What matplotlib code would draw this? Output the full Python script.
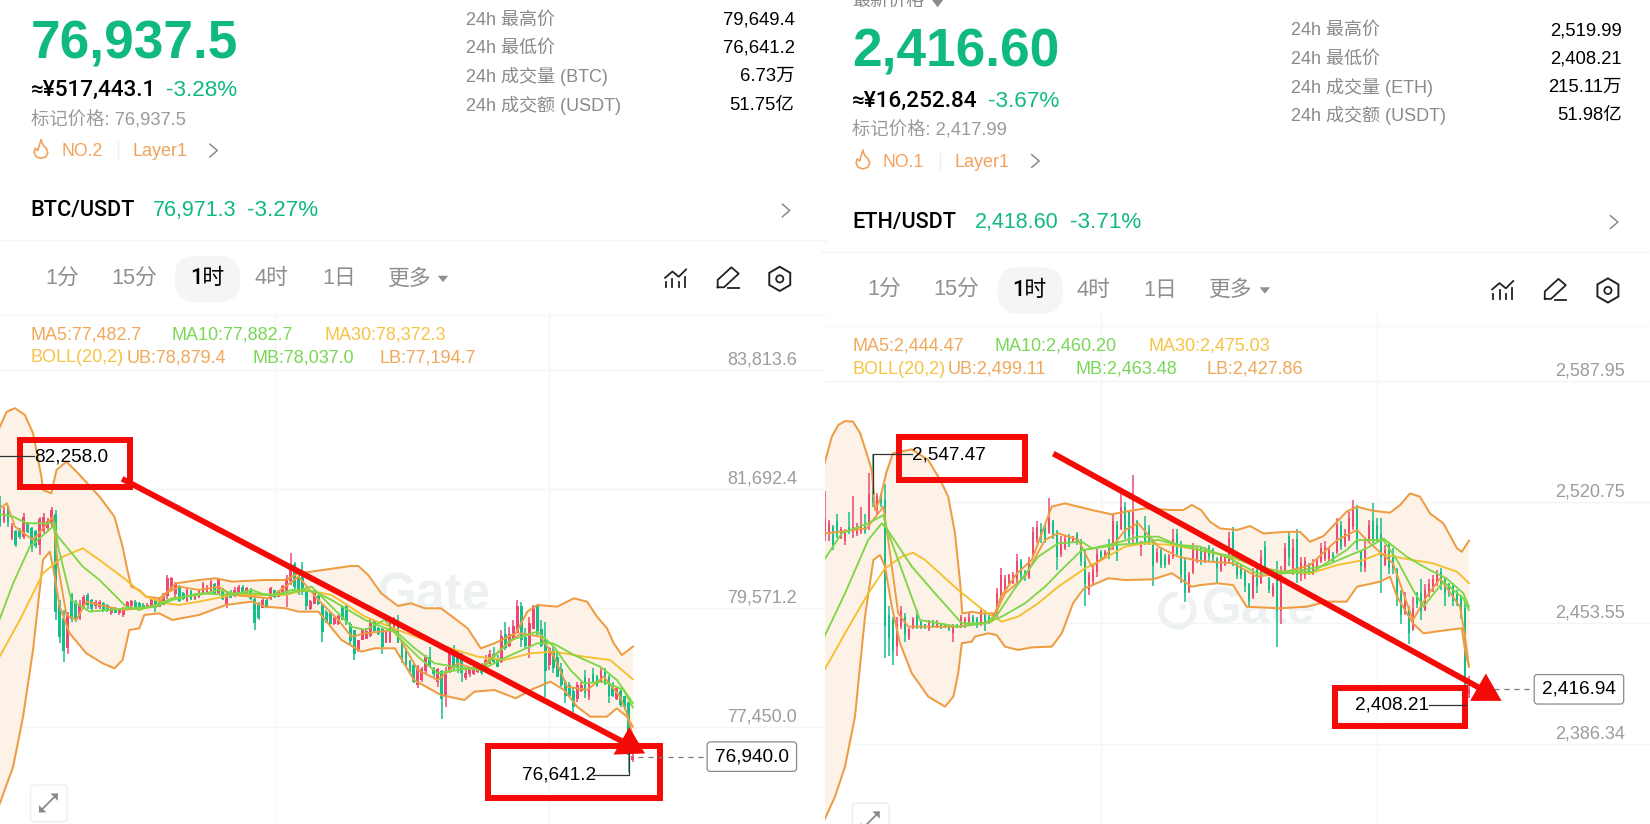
import matplotlib
matplotlib.use("Agg")
import matplotlib.pyplot as plt
from matplotlib.patches import Rectangle, FancyBboxPatch, Polygon, Circle, RegularPolygon, Arc
import numpy as np

plt.rcParams['font.family'] = ['Liberation Sans', 'Noto Sans CJK SC', 'DejaVu Sans']
MED = ['Roboto', 'Noto Sans CJK SC', 'DejaVu Sans']

# ---------- BTC candles ----------
btc_open = [81400,81120,81380,80820,80940,80970,80830,81100,81000,80940,80700,80950,81000,81060,81250,79650,79400,78850,79800,79680,79400,79580,79800,79720,79600,79590,79660,79620,79480,79570,79480,79440,79550,79600,79680,79660,79620,79580,79580,79720,79590,79620,79780,79900,79820,79960,79840,79700,79880,79730,79760,79820,79840,79850,80000,79830,79900,79620,79840,79780,79800,79950,79820,79900,79740,79650,79570,79720,79740,79900,79770,79800,79880,80050,80350,80100,80150,79850,79550,79640,79790,79640,79500,79480,79280,79290,79600,79600,79290,79180,78820,79000,79010,79070,79340,79220,79200,78950,78960,79130,79350,
78950,78800,78620,78560,78200,78280,78450,78700,78500,78250,78450,77980,78450,78780,78750,78700,78320,78400,78400,78430,78520,78480,78580,78760,78640,78600,79100,78900,79000,79120,79600,79050,78900,79200,79620,79200,79000,78550,78820,78700,78480,78250,78200,78100,77950,78100,78350,77990,78400,78350,78250,78450,78350,78200,77950,78100,78000,77900,76860]
btc_close = [81050,81320,81100,81040,80700,80830,81200,80920,80650,80680,81150,81200,81130,81320,79500,79050,78800,79450,79380,79380,79650,79770,79620,79560,79680,79670,79530,79510,79570,79490,79540,79570,79670,79690,79560,79580,79570,79620,79720,79570,79700,79800,80100,80100,80000,79700,79730,79900,79730,79820,79870,80000,79950,80040,79820,80080,79730,79820,79750,79900,79950,79820,79920,79730,79300,79400,79720,79580,79920,79760,79880,79960,80100,80350,79950,79830,79850,79600,79700,79850,79650,79150,79310,79280,79400,79430,79360,79300,78980,78750,79000,79190,79170,79330,79170,79100,78880,79150,79300,79370,78950,
78650,78560,78440,78250,78520,78480,78700,78520,78400,78480,77950,78450,78780,78520,78500,78420,78420,78500,78520,78560,78420,78650,78750,78610,78520,79080,78850,79100,79250,79600,79000,78900,79300,79600,79150,78900,78450,78850,78500,78350,78200,78000,78000,77800,78200,78200,78050,78250,78250,78200,78450,78220,78000,78000,78150,77850,77800,76950,76940]
btc_high = [81560,81380,81410,81080,80960,80990,81260,81110,81020,80960,81200,81260,81170,81380,81320,79710,79540,79500,79830,79710,79710,79800,79830,79740,79710,79710,79680,79650,79595,79595,79566,79595,79690,79714,79714,79685,79655,79655,79740,79740,79740,79830,80160,80130,80040,79980,79860,79920,79890,79833,79890,80040,79980,80070,80011,80100,79923,79863,79893,79952,79982,79982,79952,79923,79770,79685,79744,79744,79952,79893,79893,79982,80160,80546,80400,80160,80400,79893,79714,79893,79803,79655,79536,79506,79417,79447,79625,79625,79328,79180,79001,79209,79209,79387,79358,79239,79209,79180,79328,79417,79447,
78942,78852,78644,78585,78555,78525,78733,78882,78525,78496,78460,78525,78823,78912,78823,78763,78466,78525,78555,78615,78585,78733,78823,78882,78733,79179,79328,79239,79358,79714,79684,79209,79417,79625,79625,79358,79328,78882,78882,78763,78585,78288,78258,78139,78258,78258,78466,78318,78496,78377,78496,78496,78377,78258,78169,78139,77990,77900,76980]
btc_low = [81020,81080,81020,80780,80665,80810,80810,80900,80575,80635,80520,80900,80960,81020,79360,78940,78615,78760,79330,79330,79360,79560,79560,79500,79560,79560,79500,79500,79450,79480,79450,79417,79540,79566,79536,79566,79566,79566,79566,79500,79595,79625,79740,79890,79774,79685,79714,79685,79714,79714,79744,79803,79833,79833,79803,79803,79714,79566,79744,79774,79803,79803,79803,79714,79180,79350,79566,79566,79714,79744,79774,79803,79595,79982,79833,79803,79803,79536,79536,79655,79625,78970,79298,79268,79268,79268,79358,79268,78910,78645,78793,79001,79031,79061,79150,79090,78760,78942,78942,79120,78942,
78585,78525,78407,78228,78139,78258,78407,78525,78347,78169,77600,77810,78407,78466,78407,78258,78288,78347,78377,78407,78377,78466,78585,78585,78525,78585,78823,78882,79061,79120,78882,78852,78674,79209,79090,78882,77990,78466,78407,78347,78169,77872,77990,77723,77901,78080,77961,77931,78228,78169,78228,78199,77872,77990,77931,77812,77753,76641.2,76830]

# ---------- ETH candles ----------
eth_open = [2502,2503,2507,2510,2501,2499,2507,2504,2503,2504,2507,2507,2530,2517,2525,2522,2458,2455,2441,2452,2457,2445,2451,2458,2454,2453,2450,2454,2452,2453,2453,2451.5,2448,2452.5,2452,2453,2454,2457,2456,2453,2458,2457,2455,2458,2468,2472,2475,2476,2478,2488,2482,2479,2492,2500,2506,2507,2504,2510,2504,2492,2495,2502,2498,2503,2499,2488,2472,2477,2482,2493,2490,2495,2495,2508,2506,2518,2515,2503,2510,2496,2506,2505,2498,2488,2494,2491,2487,2490,2503,2497,2488,2471,2482,2488,
2495,2488,2496,2494,2489,2483,2486,2488,2504,2486,2485,2482,2475,2468,2483,2476,2496,2478,2469,2482,2460,2482,2502,2484,2500,2480,2480,2486,2481,2484,2488,2489,2489,2492,2493,2508,2497,2500,2507,2517,2493,2484,2499,2510,2508,2503,2486,2497,2490,2483,2470,2459,2462,2450,2470,2470,2461,2469,2472,2475,2482,2478,2475,2474,2471,2468,2462,2414]
eth_close = [2512,2509,2497,2503,2506,2505,2504,2507,2507,2508,2504,2525,2521,2524,2520,2452,2445,2438,2453,2460,2447,2450,2456,2452,2451,2451,2454,2452,2454,2451,2451.5,2450,2452,2451,2457,2456,2457,2454,2453,2460,2453,2454,2458,2470,2480,2478,2480,2480,2488,2480,2479,2487,2504,2507,2501,2500,2512,2503,2490,2498,2500,2498,2501,2498,2488,2475,2480,2483,2492,2490,2493,2490,2510,2492,2518,2506,2502,2515,2498,2498,2498,2498,2485,2493,2486,2486,2491,2500,2492,2481,2470,2480,2495,2494,
2488,2494,2490,2490,2484,2490,2491,2501,2490,2480,2480,2474,2466,2480,2474,2490,2484,2472,2474,2460,2480,2495,2490,2495,2480,2487,2488,2482,2487,2488,2495,2496,2494,2488,2508,2496,2503,2512,2518,2498,2485,2494,2508,2500,2500,2490,2494,2484,2484,2470,2458,2466,2448,2462,2464,2460,2472,2475,2478,2481,2474,2470,2470,2466,2465,2460,2414,2416.94]
eth_high = [2527,2511,2508,2514,2507,2506,2515,2524,2509,2518,2514,2537,2547.47,2526,2526,2531,2463,2457,2457,2463,2459,2451,2457,2461,2455,2453,2455,2455,2455,2453,2453,2452,2453,2453,2458,2457,2459,2458,2457,2462,2461,2459,2459,2473,2484,2480,2481,2482,2492,2489,2483,2490,2507,2510,2509,2508,2523,2511,2505,2502,2502,2503,2502,2504,2500,2494,2482,2486,2495,2494,2494,2500,2514,2510,2525,2521,2516,2536,2511,2499,2513,2508,2500,2495,2496,2492,2492,2506,2506,2499,2490,2482,2498,2496,
2496,2496,2497,2495,2490,2492,2492,2504,2507,2487,2486,2483,2476,2484,2487,2494,2499,2479,2476,2488,2485,2498,2504,2500,2506,2490,2490,2487,2489,2489,2498,2499,2496,2493,2512,2510,2506,2515,2522,2519,2494,2500,2511,2520,2512,2512,2497,2498,2495,2484,2472,2471,2463,2468,2471,2478,2475,2478,2480,2483,2484,2479,2476,2476,2472,2469,2466,2424]
eth_low = [2499,2499,2494,2501,2500,2497,2503,2501,2502,2503,2503,2505,2518,2513,2518,2434,2435,2430,2435,2450,2443,2444,2450,2450,2450,2450,2449,2451,2451,2450,2451,2449,2443,2451,2451,2451,2453,2453,2451,2452,2449,2453,2455,2457,2466,2470,2474,2475,2476,2477,2477,2478,2490,2498,2498,2498,2503,2500,2483,2490,2494,2496,2498,2497,2485,2463,2469,2475,2479,2489,2489,2489,2494,2488,2505,2500,2498,2498,2497,2491,2497,2497,2474,2487,2484,2484,2486,2489,2490,2476,2465,2470,2481,2487,
2486,2487,2488,2488,2476,2482,2485,2487,2485,2478,2478,2471,2463,2467,2470,2475,2481,2470,2468,2440,2453,2481,2485,2480,2476,2477,2478,2480,2480,2483,2487,2488,2488,2487,2492,2494,2496,2499,2505,2494,2482,2482,2498,2498,2498,2470,2485,2481,2481,2463,2453,2458,2442,2449,2462,2455,2460,2468,2471,2474,2472,2463,2468,2463,2463,2456,2408.21,2412]

# ---------- BTC indicator lines: candle index, price ----------
btc_ub_i = [-1,1.7,3.75,6.25,8.3,10.4,10.8,12.9,14.2,16.7,20,25,28.75,30.8,32,33,35,36.7,40,41.7,44.2,50,54.2,58.3,66.7,71.7,75,80,88.3,90,92.5,95.8,100,103.3,106.7,110.8,114.2,117.5,120.8,124.2,129.6,132.5,135,140,144.2,147.5,150,152.5,154.2,156.25,159]
btc_ub_p = [82650,83072,83132,83013,82686,81913,81675,81616,82032,82181,81943,81557,81200,80665,80249,79952,79893,79774,79744,79833,80011,80071,80101,80041,80071,80071,80190,80237,80321,80321,80160,79833,79607,79655,79566,79566,79387,79209,78852,78942,79120,79506,79625,79595,79744,79684,79417,79209,78942,78733,78882]
btc_lb_i = [-1,3.3,5.8,8.3,10.8,12.5,13.3,15,17.5,21.7,25.8,28.75,30.8,32.5,35,36.25,40,43.3,50,56.7,63.3,66.7,71.7,75,80,85.8,90.8,94.2,99.2,104,110.8,116.7,119.2,124.2,129.6,133.3,138.3,141.7,145,148.3,152.5,155,157.5,159]
btc_lb_p = [75900,76743,77634,78823,80428,80576,80309,79595,79120,78763,78585,78496,78645,79179,79209,79447,79476,79358,79447,79625,79685,79595,79566,79506,79506,79001,78793,78853,78853,78288,78020,77931,78080,78110,77961,78110,78258,78110,77812,77634,77634,77783,77634,77456]
btc_ma30_i = [-1,5,10.8,15.8,20.8,25,31.7,36.7,41.7,45,50,58.3,65,71.7,76.7,83.3,91.7,100,106.7,113.3,120,126.7,133.3,139.2,146.7,153.3,159]
btc_ma30_p = [78590,79358,80190,80487,80635,80428,80071,79774,79655,79625,79685,79803,79803,79803,79893,79803,79417,79179,79001,78852,78704,78644,78763,78793,78704,78644,78300]
btc_mb_i = [-1,3.3,7.5,13.3,14.6,20.8,25,31.7,35,39.2,43.3,50,55,58.3,63.3,69.2,73.3,79.2,83.3,91.7,100,104.2,109.2,114.2,120.8,127.5,135,139,144.2,150.8,155,159]
btc_mb_p = [79200,80011,80665,81022,80844,80309,80071,79595,79536,79625,79744,79803,79893,79833,79833,79803,79893,79863,79714,79358,79120,78852,78585,78525,78466,78704,78942,78942,78733,78525,78288,77880]
btc_ma10_i = [-1,3.3,6.7,13.75,14.6,17.9,22.5,31.7,39.2,43.3,50,58.3,63.3,66.7,72.5,78.3,83.3,88.3,91.7,96.7,100,105,110,115,121.7,128.3,135,139.2,143.3,146.7,151.7,156.7,159]
btc_ma10_p = [81260,81200,81081,81081,80665,79714,79506,79566,79595,79714,79833,79803,79893,79803,79833,79952,79595,79239,79179,79358,79060,78704,78407,78466,78525,79001,79150,78882,78466,78228,78258,78110,77800]
btc_ma5_i = [-1,1.7,3.75,8.3,13.3,14.6,16.7,19.2,21.7,25,30.8,39.2,41.7,45,50,55,58.3,63.3,67.5,71.7,75,80,85,88.3,91.7,99.2,105,110,115,120,126.7,130.8,135.8,139.2,142.5,147.5,151.7,155.8,157.5,159]
btc_ma5_p = [81300,81438,81022,80784,81200,80309,79447,79358,79685,79625,79536,79595,79833,79952,79893,79952,79803,79774,79744,79952,80130,79714,79358,79061,79120,79179,78466,78288,78585,78466,78882,79120,79061,78704,78169,78110,78347,77990,77694,77300]

# ---------- ETH indicator lines ----------
eth_ub_i = [-1,1.7,3.3,5,7,8.8,10.4,11.7,12.5,13.7,15.4,17,21.7,25.8,28.8,30.8,32.5,33.8,34.3,36.7,39,42.5,44,48,51.7,56.7,60,66.7,71.7,75,80,86.7,89.6,91.7,94,96.25,98.75,103,106.25,109.6,115.4,118.75,121.25,124.6,130.4,133,137,141.25,143.75,146.25,148.75,151.25,154.6,158,159.2,161]
eth_ub_p = [2535,2557,2563.5,2565.7,2565.4,2558.9,2547.8,2538.5,2516.3,2521.9,2537.6,2547.8,2550,2544.1,2533,2523.7,2503.4,2475.6,2458.9,2459.8,2458.9,2458.9,2468.2,2481.2,2488.6,2518.2,2520,2516.3,2513.9,2515.4,2517.2,2516.3,2516.3,2519.1,2516.3,2509.8,2506.1,2505.2,2507.4,2503.3,2504.2,2504.2,2498.7,2501.8,2515.4,2518.1,2515.9,2514.8,2519,2525.5,2523.7,2514.4,2508.9,2495,2493.1,2499.3]
eth_lb_i = [-1,2.5,5,7.5,10,12.1,13.75,15,16.7,18.75,21.7,25.8,30,32.1,33.3,34.2,36.7,37.5,40.8,42.9,45,48.3,51.7,56.7,59.2,62,64.6,70.8,75,82,86.7,91.7,93.75,98,102,105.4,113.75,120.4,125.4,130.4,133,138.75,141.25,143,147,149.6,155.4,159.2,160,161]
eth_lb_p = [2340,2357.1,2373.8,2401.6,2457.1,2488.6,2491.3,2484.9,2462.6,2442.3,2425.6,2412.7,2407.1,2412.7,2425.6,2442.3,2443.2,2446,2447.8,2446.9,2440.4,2438.6,2440,2440.4,2447.8,2464.5,2472.4,2478.4,2477.4,2477.8,2481.2,2473.7,2474.6,2475.6,2474.6,2462.6,2461.7,2462.6,2465.4,2465.4,2473.7,2476.5,2479.3,2468.2,2453.3,2447.8,2449.6,2450.6,2438.5,2429.3]
eth_ma30_i = [-1,5,10.8,15,19.2,22,25,33.3,40,44.2,48.3,53.3,58.3,65,69.2,75,80,86.7,93.75,101.25,108,114.6,121.25,128,134.6,138.75,144.6,152,158,161]
eth_ma30_p = [2424,2447.8,2470,2483.9,2490.4,2492.6,2488.6,2471.9,2459.9,2454.3,2457.1,2464.5,2473.7,2483.9,2488.6,2496,2497.8,2496.9,2494,2490.4,2484.8,2482,2481.1,2485.7,2488.5,2492.2,2489.4,2486.7,2482,2475.6]
eth_mb_i = [-1,5,10.8,14.2,15.4,21.7,27.5,34.2,40,44.2,50,55,58.3,64.2,67.5,72.5,78.3,83.3,88.3,93.75,102,108,113.75,119.6,125.4,130.4,135.4,139.6,145.4,150.4,155.4,159.6,161]
eth_mb_p = [2442,2470,2499.7,2508.9,2506.1,2484.9,2470,2453.4,2453.4,2457.1,2464.5,2473.7,2481.2,2494.1,2495,2496.9,2497.8,2499.7,2496.9,2494.1,2490.4,2484.8,2482,2483,2485.7,2490.4,2495,2500.5,2490.4,2483.9,2478.3,2470,2462.6]
eth_ma10_i = [-1,4.2,10.8,14.6,15.4,19.2,23.75,33.3,40,43.3,47.5,53.3,58.3,64.2,66.7,72.5,78.3,83.3,88.3,93.75,101.25,108,114.6,122,130.4,133,139.6,143,147,149.6,154.6,159.6,161]
eth_ma10_p = [2486,2503.4,2508.9,2513.5,2506.1,2483,2455.2,2451.5,2453.4,2458.9,2472.9,2490.4,2497.8,2498.7,2495,2497.8,2501.5,2501.5,2496.9,2496,2489.4,2481.1,2481.1,2482,2494.1,2499.6,2499.6,2488.5,2471.9,2462.6,2476.5,2467.2,2460.8]
eth_ma5_i = [-1,10.4,13.3,14.6,15.8,18.3,20.8,33.3,41.7,45,50,55,58.3,63.3,66.7,70,75,78.3,83.3,88.3,93.75,102,108,113.75,121.25,128,133,136.25,142,144.6,147,150.4,153.75,158.75,160,161]
eth_ma5_p = [2503,2506.1,2514.5,2518.2,2499.7,2458.9,2451.5,2451.5,2454.3,2470,2479.3,2499.7,2503.4,2499.7,2484.9,2490.4,2505.2,2508.9,2496,2490.4,2488,2486.7,2479.3,2481.1,2485.7,2499.6,2505.2,2497.8,2486.7,2470,2455.2,2468.2,2478.3,2462.6,2445.9,2429.3]

btc_ticks = [83813.6, 81692.4, 79571.2, 77450.0]
eth_ticks = [2587.95, 2520.75, 2453.55, 2386.34]
btc_tick_labels = ['83,813.6', '81,692.4', '79,571.2', '77,450.0']
eth_tick_labels = ['2,587.95', '2,520.75', '2,453.55', '2,386.34']

# ---------- colours ----------
UP, DOWN = '#ec4a72', '#14bf8c'
GREEN = '#10b981'
ORANGE, BAND = '#ee9c42', '#fdf2e8'
LGREEN, YEL = '#7fd646', '#f5bf2e'
RED = '#f40a06'
GREY = '#9c9c9c'
WM = '#eef1f2'

W, H = 1650, 824
fig = plt.figure(figsize=(W/100, H/100), dpi=100, facecolor='white')

def px_axes(x0, y0, x1, y1, **kw):
    return fig.add_axes([x0/W, 1-y1/H, (x1-x0)/W, (y1-y0)/H], **kw)

# under layer (watermark), in the coordinates of the shrunk reference view
under = px_axes(0, 0, W, H, zorder=0)
under.set_xlim(0, 1568); under.set_ylim(783, 0); under.axis('off')

def watermark(a, x, y):
    a.add_patch(Arc((x, y), 31, 31, theta1=-50, theta2=270, ec=WM, lw=4.3))
    a.add_patch(Circle((x+5, y-3), 3, fc=WM, ec='none'))
    a.text(x+23, y, 'Gate', fontsize=37, weight='bold', color=WM, va='center', ha='left')

watermark(under, 335, 566)
watermark(under, 1119, 580)

def chart(x0, x1, ylim, spacing, o, c, h, l, ub, lb, lines, ticks, labels, vgrid, label_x):
    ax = px_axes(x0, 310, x1, H, zorder=1)
    ax.patch.set_alpha(0)
    ax.set_xlim(0, (x1-x0)/spacing); ax.set_ylim(*ylim)
    for s in ax.spines.values():
        s.set_visible(False)
    ax.set_xticks([]); ax.set_yticks([])
    for t in ticks:
        ax.axhline(t, color='#f4f4f4', lw=1, zorder=0)
    for v in vgrid:
        ax.axvline(v, color='#f6f6f6', lw=1, zorder=0)
    ax.fill(list(ub[0])+list(lb[0])[::-1], list(ub[1])+list(lb[1])[::-1], color=BAND, lw=0, zorder=1)
    ax.plot(*ub, color=ORANGE, lw=1.45, zorder=3)
    ax.plot(*lb, color=ORANGE, lw=1.45, zorder=3)
    idx = np.arange(len(o))
    o, c, h, l = map(np.array, (o, c, h, l))
    col = np.where(c >= o, UP, DOWN)
    ax.vlines(idx, l, h, colors=col, lw=1.1, zorder=2)
    ax.bar(idx, np.maximum(np.abs(c-o), (ylim[1]-ylim[0])/500), bottom=np.minimum(o, c), width=0.72, color=col, lw=0, zorder=2)
    for (xs, ys, cc) in lines:
        ax.plot(xs, ys, color=cc, lw=1.35, zorder=4, solid_joinstyle='round')
    for t, lab in zip(ticks, labels):
        ax.annotate(lab, (label_x, t), xycoords=('axes fraction', 'data'), xytext=(0, 1.2),
                    textcoords='offset points', ha='right', va='bottom', fontsize=13, color=GREY)
    return ax

btc_ylim = (75721, 84883)
eth_ylim = (2341.9, 2627.4)
chart(0, 825, btc_ylim, 3.98, btc_open, btc_close, btc_high, btc_low,
      (btc_ub_i, btc_ub_p), (btc_lb_i, btc_lb_p),
      [(btc_ma30_i, btc_ma30_p, YEL), (btc_ma5_i, btc_ma5_p, ORANGE), (btc_mb_i, btc_mb_p, LGREEN), (btc_ma10_i, btc_ma10_p, LGREEN)],
      btc_ticks, btc_tick_labels, [69, 138], 797/825)
chart(825, 1650, eth_ylim, 4.0, eth_open, eth_close, eth_high, eth_low,
      (eth_ub_i, eth_ub_p), (eth_lb_i, eth_lb_p),
      [(eth_ma30_i, eth_ma30_p, YEL), (eth_ma5_i, eth_ma5_p, ORANGE), (eth_mb_i, eth_mb_p, LGREEN), (eth_ma10_i, eth_ma10_p, LGREEN)],
      eth_ticks, eth_tick_labels, [69, 138], 800/825)

# top layer: screenshot furniture
ov = px_axes(0, 0, W, H, zorder=2)
ov.set_xlim(0, 1568); ov.set_ylim(783, 0); ov.axis('off'); ov.patch.set_alpha(0)

def T(x, y, s, size=12.5, color='black', ha='left', weight='normal', va='center', family=None):
    kw = {'family': family} if family else {}
    ov.text(x, y, s, fontsize=size, color=color, ha=ha, va=va, weight=weight, **kw)

def chevron(x, y, color='#8a8a8a', r=5):
    ov.plot([x-r*0.7, x+r*0.7, x-r*0.7], [y-r*1.2, y, y+r*1.2], color=color, lw=1.1)

def flame(x, y, color):
    fx = [0, 2, 5, 6.5, 4.5, 0, -4.5, -6.5, -5.5, -3, -2, 0]
    fy = [-9, -4, -1, 3, 7, 8.5, 7, 3, -1, 1, -3, -9]
    ov.plot([x+a for a in fx], [y+b for b in fy], color=color, lw=1.2, solid_joinstyle='round')

def panel(dx, dy, price, cny, pct, mark, rank, stats, vals, pair, pair_price, pair_pct, yl, pctx, pillx, legend):
    T(29+dx, 42+dy-(2 if dy else 0), price, 38.3, GREEN, weight='bold')
    T(29+dx, 86+dy, cny, 16.2, family=MED, weight='medium')
    T(pctx, 86+dy, pct, 16.2, GREEN)
    T(29+dx, 114+dy, mark, 13.2, '#9a9a9a')
    flame(39+dx, 143+dy-1, '#f2a25c')
    T(58+dx, 144+dy, rank, 12.7, '#f2a25c')
    ov.plot([112+dx]*2, [135+dy, 151+dy], color='#eeeeee', lw=1)
    T(126+dx, 144+dy, 'Layer1', 13, '#f2a25c')
    chevron(203+dx, 143+dy)
    for (yy, s) in stats:
        T(443+dx+(3 if dx else 0), yy+1, s, 13, '#8a8a8a')
    rx = 755 if not dx else 1541
    for (yy, _), v in zip(stats, vals):
        T(rx, yy+1, v, 13.3, ha='right')
    T(29+dx, yl, pair, 15.6, family=MED, weight='medium')
    T(pair_price[0], yl, pair_price[1], 15.5, GREEN)
    T(pair_pct[0], yl, pair_pct[1], 16.2, GREEN)
    chevron(747+dx+(6 if dx else 0), yl)
    ov.plot([0+dx, 785+dx], [yl+28]*2, color='#f4f4f4', lw=1)
    ty = yl+65
    ov.plot([0+dx, 785+dx], [ty+34]*2, color='#f6f6f6', lw=1)
    ov.add_patch(FancyBboxPatch((pillx+3, ty-22), 62, 44, boxstyle='round,pad=0,rounding_size=20', fc='#f5f5f5', ec='none'))
    for xx, s in [(59, '1分'), (128, '15分'), (258, '4时'), (322, '1日'), (389, '更多')]:
        T(xx+dx, ty, s, 15.7, '#8f8f8f', ha='center')
    T(197+dx, ty, '1时', 15.7, 'black', ha='center', weight='medium', family=MED)
    ov.add_patch(Polygon([[416+dx, ty-3], [426+dx, ty-3], [421+dx, ty+3]], fc='#8f8f8f', ec='none'))
    ix = 642+dx+(5 if dx else 0)
    ov.plot([ix-10, ix-3, ix+3, ix+10], [ty-1, ty-7, ty-2, ty-9], color='#222', lw=1.3)
    for k, top in zip((-9, -3, 3, 9), (3, 0, 3, -2)):
        ov.plot([ix+k]*2, [ty+top, ty+8], color='#222', lw=1.3)
    px = 692+dx+(5 if dx else 0)
    ov.plot([px-10, px-10, px+3, px+10, px-4, px-10], [ty+8, ty+1, ty-11, ty-5, ty+8, ty+8], color='#222', lw=1.3)
    ov.plot([px, px+10], [ty+9, ty+9], color='#222', lw=1.3)
    hx = 741+dx+(6 if dx else 0)
    ov.add_patch(RegularPolygon((hx, ty), 6, radius=11.5, fill=False, ec='#222', lw=1.4))
    ov.add_patch(Circle((hx, ty), 3.4, fill=False, ec='#222', lw=1.3))
    for (xx, yy, s, cc) in legend:
        T(xx, yy, s, 13, cc)

lc = '#f0a85a'
panel(0, 0, '76,937.5', '≈¥517,443.1', '-3.28%', '标记价格: 76,937.5', 'NO.2',
      [(18, '24h 最高价'), (45, '24h 最低价'), (72, '24h 成交量 (BTC)'), (99, '24h 成交额 (USDT)')],
      ['79,649.4', '76,641.2', '6.73万', '51.75亿'],
      'BTC/USDT', (145, '76,971.3'), (235, '-3.27%'), 200, 158, 163,
      [(29, 318, 'MA5:77,482.7', lc), (163, 318, 'MA10:77,882.7', '#78d855'), (308, 318, 'MA30:78,372.3', '#f6c344'),
       (29, 340, 'BOLL(20,2)', '#f6c344'), (120, 340, 'UB:78,879.4', lc), (240, 340, 'MB:78,037.0', '#78d855'), (361, 340, 'LB:77,194.7', lc)])

panel(781, 10, '2,416.60', '≈¥16,252.84', '-3.67%', '标记价格: 2,417.99', 'NO.1',
      [(28, '24h 最高价'), (55, '24h 最低价'), (82, '24h 成交量 (ETH)'), (109, '24h 成交额 (USDT)')],
      ['2,519.99', '2,408.21', '215.11万', '51.98亿'],
      'ETH/USDT', (926, '2,418.60'), (1017, '-3.71%'), 211, 939, 945,
      [(810, 329, 'MA5:2,444.47', lc), (945, 329, 'MA10:2,460.20', '#78d855'), (1091, 329, 'MA30:2,475.03', '#f6c344'),
       (810, 351, 'BOLL(20,2)', '#f6c344'), (901, 351, 'UB:2,499.11', lc), (1022, 351, 'MB:2,463.48', '#78d855'), (1147, 351, 'LB:2,427.86', lc)])
T(810, 1, '最新价格', 13, '#8a8a8a')
ov.add_patch(Polygon([[885, -1], [897, -1], [891, 7]], fc='#8a8a8a', ec='none'))
T(29, -5, '最新价格', 13, '#8a8a8a')

# expand buttons
for bx, by in [(29, 746), (810, 763)]:
    ov.add_patch(FancyBboxPatch((bx, by), 35, 35, boxstyle='round,pad=0,rounding_size=4', fc='white', ec='#eeeeee', lw=1))
    cx, cy = bx+17, by+17
    ov.plot([cx-8, cx+8], [cy+8, cy-8], color='#8a8a8a', lw=1.3)
    ov.add_patch(Polygon([[cx+9, cy-9], [cx+2, cy-9], [cx+9, cy-2]], fc='#8a8a8a', ec='none'))
    ov.add_patch(Polygon([[cx-9, cy+9], [cx-2, cy+9], [cx-9, cy+2]], fc='#8a8a8a', ec='none'))

# high / low / last price labels
LINE = '#333333'
T(32, 434, '82,258.0', 13.7)
ov.plot([0, 32], [433, 433], color=LINE, lw=0.9)
T(496, 736, '76,641.2', 13.7)
ov.plot([564, 598, 598], [736, 736, 716], color=LINE, lw=0.9)
T(867, 432, '2,547.47', 13.7)
ov.plot([867, 830, 830], [431, 431, 468], color=LINE, lw=0.9)
T(1288, 670, '2,408.21', 13.7)
ov.plot([1358, 1393], [670, 670], color=LINE, lw=0.9)

def last_box(x0, y0, x1, y1, s, xl):
    ym = (y0+y1)/2
    ov.plot([xl, x0], [ym, ym], color='#777777', lw=0.9, ls=(0, (4, 4)))
    ov.add_patch(FancyBboxPatch((x0, y0), x1-x0, y1-y0, boxstyle='round,pad=0,rounding_size=3', fc='white', ec='#8a8a8a', lw=0.9))
    T((x0+x1)/2, ym, s, 13.7, ha='center')

last_box(672, 705, 757, 733, '76,940.0', 606)
last_box(1458, 641, 1543, 669, '2,416.94', 1420)

# red hand-drawn annotations
for (x0, y0, x1, y1) in [(19, 418, 124, 463), (464, 709, 627, 758), (854, 415, 974, 456), (1269, 654, 1392, 690)]:
    ov.add_patch(Rectangle((x0, y0), x1-x0, y1-y0, fill=False, ec=RED, lw=4.3, joinstyle='miter'))
ov.plot([116, 598], [455, 708], color=RED, lw=4.2, solid_capstyle='butt')
ov.plot([1001, 1412], [431, 657], color=RED, lw=4.2, solid_capstyle='butt')
ov.add_patch(Polygon([[598, 691], [583, 717], [613, 716]], fc=RED, ec='none'))
ov.add_patch(Polygon([[1412, 640], [1397, 666], [1427, 666]], fc=RED, ec='none'))

fig.savefig('out.png', dpi=100, facecolor='white')
